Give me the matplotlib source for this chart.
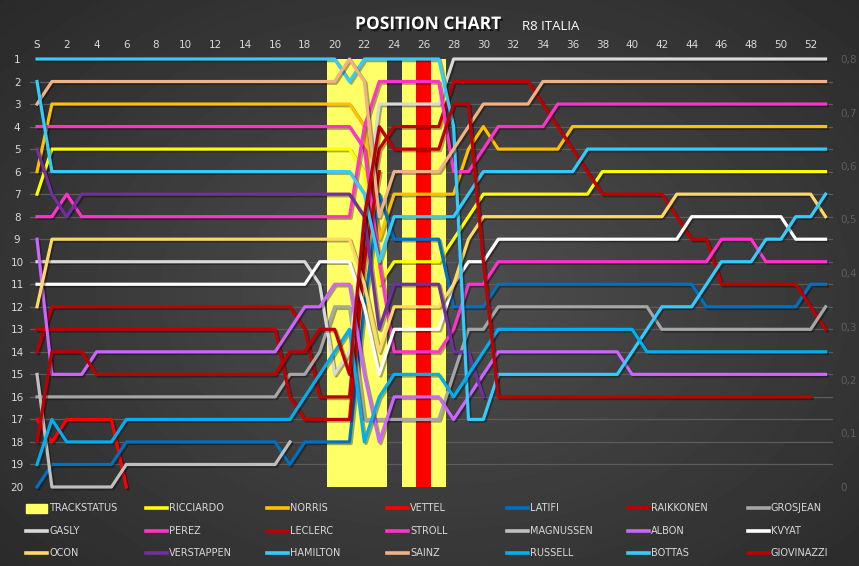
import matplotlib.pyplot as plt
import matplotlib.patheffects as pe
from matplotlib.lines import Line2D
from matplotlib.patches import Rectangle
import numpy as np

nan = np.nan

# laps 0 (start) .. 53
laps = np.arange(54)
tick_laps = np.arange(0, 53, 2)
tick_labels = ['S'] + [str(v) for v in tick_laps[1:]]

# track status (secondary axis value 0.8 = full height)
sc_laps = [20, 21, 22, 23, 25, 26, 27]
red_laps = [26]
status_value = 0.8

ricciardo = [7, 5, 5, 5, 5, 5, 5, 5, 5, 5, 5, 5, 5, 5, 5, 5, 5, 5, 5, 5, 5, 5, 6, 11, 10, 10, 10, 10,
             9, 8, 7, 7, 7, 7, 7, 7, 7, 7, 6, 6, 6, 6, 6, 6, 6, 6, 6, 6, 6, 6, 6, 6, 6, 6]
norris = [6, 3, 3, 3, 3, 3, 3, 3, 3, 3, 3, 3, 3, 3, 3, 3, 3, 3, 3, 3, 3, 3, 4, 9, 7, 7, 7, 7,
          7, 5, 4, 5, 5, 5, 5, 5, 4, 4, 4, 4, 4, 4, 4, 4, 4, 4, 4, 4, 4, 4, 4, 4, 4, 4]
vettel = [17, 18, 17, 17, 17, 17, 20, nan, nan, nan, nan, nan, nan, nan, nan, nan, nan, nan, nan, nan,
          nan, nan, nan, nan, nan, nan, nan, nan, nan, nan, nan, nan, nan, nan, nan, nan, nan, nan, nan,
          nan, nan, nan, nan, nan, nan, nan, nan, nan, nan, nan, nan, nan, nan, nan]
latifi = [20, 19, 19, 19, 19, 19, 18, 18, 18, 18, 18, 18, 18, 18, 18, 18, 18, 19, 18, 18, 18, 18, 12, 7,
          9, 9, 9, 9, 12, 12, 12, 11, 11, 11, 11, 11, 11, 11, 11, 11, 11, 11, 11, 11, 11, 12, 12, 12,
          12, 12, 12, 12, 11, 11]
raikkonen = [14, 12, 12, 12, 12, 12, 12, 12, 12, 12, 12, 12, 12, 12, 12, 12, 12, 12, 13, 16, 16, 16, 9, 5,
             4, 4, 4, 4, 2, 2, 2, 2, 2, 2, 3, 4, 5, 6, 7, 7, 7, 7, 7, 8, 9, 9, 11, 11, 11, 11, 11, 11,
             12, 13]
grosjean = [16, 16, 16, 16, 16, 16, 16, 16, 16, 16, 16, 16, 16, 16, 16, 16, 16, 15, 15, 14, 12, 12, 17, 17,
            17, 17, 17, 17, 15, 13, 13, 12, 12, 12, 12, 12, 12, 12, 12, 12, 12, 12, 13, 13, 13, 13, 13,
            13, 13, 13, 13, 13, 13, 12]
gasly = [10, 10, 10, 10, 10, 10, 10, 10, 10, 10, 10, 10, 10, 10, 10, 10, 10, 10, 10, 11, 15, 14, 8, 3,
         3, 3, 3, 3, 1, 1, 1, 1, 1, 1, 1, 1, 1, 1, 1, 1, 1, 1, 1, 1, 1, 1, 1, 1, 1, 1, 1, 1, 1, 1]
perez = [4, 4, 4, 4, 4, 4, 4, 4, 4, 4, 4, 4, 4, 4, 4, 4, 4, 4, 4, 4, 4, 4, 5, 10, 14, 14, 14, 14,
         13, 11, 11, 10, 10, 10, 10, 10, 10, 10, 10, 10, 10, 10, 10, 10, 10, 10, 9, 9, 9, 10, 10, 10,
         10, 10]
leclerc = [13, 13, 13, 13, 13, 13, 13, 13, 13, 13, 13, 13, 13, 13, 13, 13, 13, 16, 17, 17, 17, 17, 10, 6,
           nan, nan, nan, nan, nan, nan, nan, nan, nan, nan, nan, nan, nan, nan, nan, nan, nan, nan,
           nan, nan, nan, nan, nan, nan, nan, nan, nan, nan, nan, nan]
stroll = [8, 8, 7, 8, 8, 8, 8, 8, 8, 8, 8, 8, 8, 8, 8, 8, 8, 8, 8, 8, 8, 8, 4, 2, 2, 2, 2, 2,
          6, 6, 5, 4, 4, 4, 4, 3, 3, 3, 3, 3, 3, 3, 3, 3, 3, 3, 3, 3, 3, 3, 3, 3, 3, 3]
magnussen = [15, 20, 20, 20, 20, 20, 19, 19, 19, 19, 19, 19, 19, 19, 19, 19, 19, 18, nan, nan, nan, nan,
             nan, nan, nan, nan, nan, nan, nan, nan, nan, nan, nan, nan, nan, nan, nan, nan, nan, nan,
             nan, nan, nan, nan, nan, nan, nan, nan, nan, nan, nan, nan, nan, nan]
albon = [9, 15, 15, 15, 14, 14, 14, 14, 14, 14, 14, 14, 14, 14, 14, 14, 14, 13, 12, 12, 11, 11, 15, 18,
         16, 16, 16, 16, 17, 16, 15, 14, 14, 14, 14, 14, 14, 14, 14, 14, 15, 15, 15, 15, 15, 15, 15,
         15, 15, 15, 15, 15, 15, 15]
kvyat = [11, 11, 11, 11, 11, 11, 11, 11, 11, 11, 11, 11, 11, 11, 11, 11, 11, 11, 11, 10, 10, 10, 12, 15,
         13, 13, 13, 13, 11, 10, 10, 9, 9, 9, 9, 9, 9, 9, 9, 9, 9, 9, 9, 9, 8, 8, 8, 8, 8, 8, 8, 9, 9, 9]
ocon = [12, 9, 9, 9, 9, 9, 9, 9, 9, 9, 9, 9, 9, 9, 9, 9, 9, 9, 9, 9, 9, 9, 11, 14, 12, 12, 12, 12,
        11, 9, 8, 8, 8, 8, 8, 8, 8, 8, 8, 8, 8, 8, 8, 7, 7, 7, 7, 7, 7, 7, 7, 7, 7, 8]
verstappen = [5, 7, 8, 7, 7, 7, 7, 7, 7, 7, 7, 7, 7, 7, 7, 7, 7, 7, 7, 7, 7, 7, 8, 13, 11, 11, 11, 11,
              14, 14, 16, nan, nan, nan, nan, nan, nan, nan, nan, nan, nan, nan, nan, nan, nan, nan,
              nan, nan, nan, nan, nan, nan, nan, nan]
hamilton = [1, 1, 1, 1, 1, 1, 1, 1, 1, 1, 1, 1, 1, 1, 1, 1, 1, 1, 1, 1, 1, 2, 1, 1, 1, 1, 1, 1,
            4, 17, 17, 15, 15, 15, 15, 15, 15, 15, 15, 15, 14, 13, 12, 12, 12, 11, 10, 10, 10, 9, 9,
            8, 8, 7]
sainz = [3, 2, 2, 2, 2, 2, 2, 2, 2, 2, 2, 2, 2, 2, 2, 2, 2, 2, 2, 2, 2, 1, 2, 8, 6, 6, 6, 6,
         5, 4, 3, 3, 3, 3, 2, 2, 2, 2, 2, 2, 2, 2, 2, 2, 2, 2, 2, 2, 2, 2, 2, 2, 2, 2]
russell = [19, 17, 18, 18, 18, 18, 17, 17, 17, 17, 17, 17, 17, 17, 17, 17, 17, 17, 16, 15, 14, 13, 18, 16,
           15, 15, 15, 15, 16, 15, 14, 13, 13, 13, 13, 13, 13, 13, 13, 13, 13, 14, 14, 14, 14, 14, 14,
           14, 14, 14, 14, 14, 14, 14]
bottas = [2, 6, 6, 6, 6, 6, 6, 6, 6, 6, 6, 6, 6, 6, 6, 6, 6, 6, 6, 6, 6, 6, 7, 10, 8, 8, 8, 8,
          8, 7, 6, 6, 6, 6, 6, 6, 6, 5, 5, 5, 5, 5, 5, 5, 5, 5, 5, 5, 5, 5, 5, 5, 5, 5]
giovinazzi = [18, 14, 14, 14, 15, 15, 15, 15, 15, 15, 15, 15, 15, 15, 15, 15, 15, 14, 14, 13, 13, 15, 8, 4,
              5, 5, 5, 5, 3, 3, 10, 16, 16, 16, 16, 16, 16, 16, 16, 16, 16, 16, 16, 16, 16, 16, 16,
              16, 16, 16, 16, 16, 16, nan]

drivers = [
    ('RICCIARDO', ricciardo, '#ffff00'),
    ('NORRIS', norris, '#ffc000'),
    ('VETTEL', vettel, '#ff0000'),
    ('LATIFI', latifi, '#0070c0'),
    ('RAIKKONEN', raikkonen, '#c00000'),
    ('GROSJEAN', grosjean, '#a6a6a6'),
    ('GASLY', gasly, '#d9d9d9'),
    ('PEREZ', perez, '#ff33cc'),
    ('LECLERC', leclerc, '#c00000'),
    ('STROLL', stroll, '#ff33cc'),
    ('MAGNUSSEN', magnussen, '#bfbfbf'),
    ('ALBON', albon, '#cc66ff'),
    ('KVYAT', kvyat, '#ffffff'),
    ('OCON', ocon, '#ffd966'),
    ('VERSTAPPEN', verstappen, '#7030a0'),
    ('HAMILTON', hamilton, '#33ccff'),
    ('SAINZ', sainz, '#f4b183'),
    ('RUSSELL', russell, '#00b0f0'),
    ('BOTTAS', bottas, '#33ccff'),
    ('GIOVINAZZI', giovinazzi, '#c00000'),
]

W, H = 859, 566
fig = plt.figure(figsize=(W / 100, H / 100), dpi=100)

# dark radial background
bg = fig.add_axes([0, 0, 1, 1], zorder=-10)
yy, xx = np.mgrid[0:H, 0:W]
r = np.hypot((xx - 440) / 620, (yy - 290) / 430)
bg.imshow(0.31 - 0.15 * r, cmap='gray', vmin=0, vmax=1, aspect='auto')
bg.axis('off')

ax = fig.add_axes([29.6 / W, 1 - 487 / H, (833 - 29.6) / W, (487 - 59) / H])
ax2 = ax.twinx()
ax.set_zorder(ax2.get_zorder() + 1)
ax.patch.set_visible(False)

# track status bars + grid on the secondary axis
ax2.bar(sc_laps, status_value, width=1, color='#ffff66', zorder=2)
ax2.bar(red_laps, status_value, width=1, color='#ff0000', zorder=3)
ax2.set_ylim(0, 0.8)
ax2.set_yticks(np.linspace(0, 0.8, 20), minor=True)
ax2.grid(which='minor', color='#5c5c5c', lw=0.9)
ax2.set_axisbelow(True)
ax2.set_yticks([0, 0.1, 0.2, 0.3, 0.4, 0.5, 0.6, 0.7, 0.8])
ax2.set_yticklabels(['0', '0,1', '0,2', '0,3', '0,4', '0,5', '0,6', '0,7', '0,8'])
ax2.tick_params(axis='y', which='both', length=0, pad=5, labelsize=7.5, labelcolor='#5e5e5e')

shadow = [pe.SimpleLineShadow(offset=(1.2, -1.2), shadow_color='black', alpha=0.35), pe.Normal()]
for name, vals, col in drivers:
    ax.plot(laps, vals, color=col, lw=2.3, clip_on=False, path_effects=shadow)

ax.set_xlim(-0.5, 53.5)
ax.set_ylim(20, 1)
ax.xaxis.tick_top()
ax.set_xticks(tick_laps)
ax.set_xticklabels(tick_labels)
ax.set_yticks(range(1, 21))
ax.tick_params(axis='x', length=0, pad=6.5, labelsize=7.5, labelcolor='#d9d9d9')
ax.tick_params(axis='y', length=0, pad=9, labelsize=7.5, labelcolor='#d9d9d9')
for lbl in ax.get_yticklabels():
    lbl.set_horizontalalignment('center')
for a in (ax, ax2):
    for s in a.spines.values():
        s.set_visible(False)

# title
title_fx = [pe.withSimplePatchShadow(offset=(1.5, -1.5), shadow_rgbFace='black', alpha=0.6)]
fig.text(428 / W, 1 - 24 / H, 'POSITION CHART', ha='center', va='center', fontsize=12.5,
         fontweight='bold', color='white', family='Open Sans', path_effects=title_fx)
fig.text(522 / W, 1 - 26 / H, 'R8 ITALIA', ha='left', va='center', fontsize=9.5,
         color='white', family='Open Sans')

# legend, row by row, 7 columns
entries = [('TRACKSTATUS', '#ffff66')] + [(n, c) for n, _, c in drivers]
for i, (name, col) in enumerate(entries):
    rr, cc = divmod(i, 7)
    x0 = 26 + cc * 120.3
    y0 = 508 + rr * 22.5
    if i == 0:
        fig.add_artist(Rectangle((x0 / W, 1 - (y0 + 4.5) / H), 21 / W, 9 / H,
                                 transform=fig.transFigure, color=col))
    else:
        fig.add_artist(Line2D([x0 / W, (x0 + 21) / W], [1 - y0 / H, 1 - y0 / H],
                              transform=fig.transFigure, color=col, lw=2.6))
    fig.text((x0 + 23) / W, 1 - y0 / H, name, ha='left', va='center', fontsize=7,
             color='#d9d9d9', family='DejaVu Sans')

fig.savefig('out.png', dpi=100, facecolor='#333333')
